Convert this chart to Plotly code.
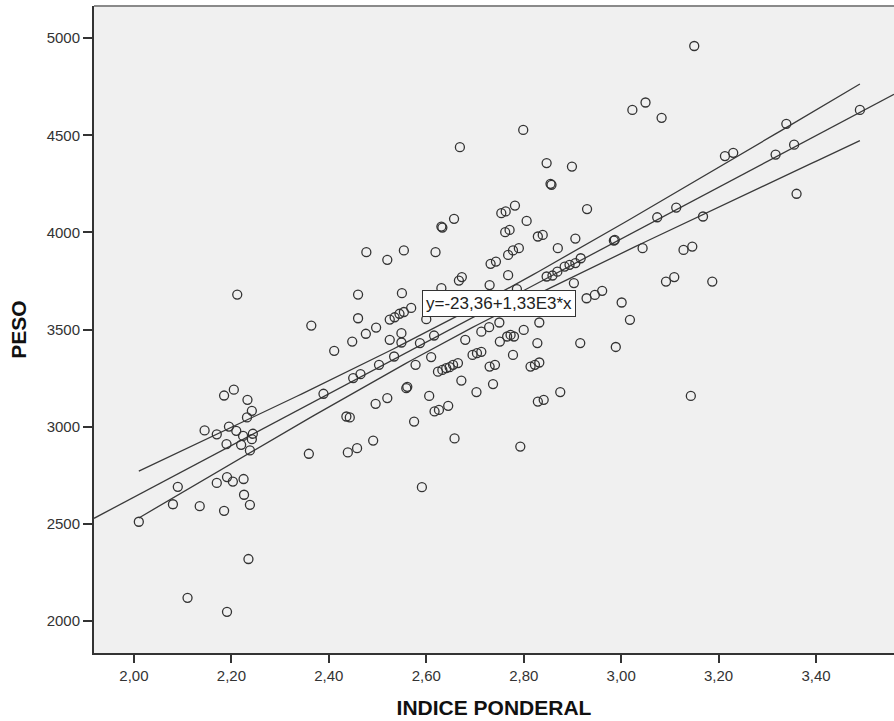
import numpy as np
import plotly.graph_objects as go

# ---- data ----
indice = [
    2.01, 2.08, 2.09, 2.135, 2.11, 2.145, 2.17, 2.17, 2.185, 2.185,
    2.19, 2.191, 2.191, 2.195, 2.203, 2.205, 2.21, 2.212, 2.22, 2.224,
    2.225, 2.226, 2.232, 2.233, 2.235, 2.238, 2.238, 2.242, 2.242, 2.244,
    2.359, 2.364, 2.389, 2.411, 2.436, 2.443, 2.439, 2.448, 2.450, 2.458,
    2.460, 2.460, 2.465, 2.476, 2.477, 2.491, 2.496, 2.497, 2.503, 2.520,
    2.520, 2.525, 2.525, 2.534, 2.535, 2.545, 2.549, 2.549, 2.550, 2.554,
    2.554, 2.559, 2.561, 2.569, 2.575, 2.578, 2.587, 2.591, 2.600, 2.606,
    2.610, 2.616, 2.617, 2.626, 2.645, 2.619, 2.631, 2.633, 2.631,
    2.624, 2.633, 2.641, 2.648, 2.655, 2.665,
    2.657, 2.658, 2.669, 2.667, 2.673, 2.672, 2.680, 2.695, 2.704, 2.713,
    2.703, 2.713, 2.729, 2.730, 2.741, 2.737, 2.730, 2.732, 2.743, 2.750,
    2.751, 2.754, 2.763, 2.762, 2.771, 2.766, 2.773, 2.780, 2.768, 2.778,
    2.790, 2.768, 2.778, 2.782, 2.786, 2.793, 2.799, 2.800, 2.806, 2.814,
    2.823, 2.832, 2.828, 2.829, 2.841, 2.829, 2.839, 2.832, 2.847, 2.855,
    2.857, 2.870, 2.875, 2.899, 2.906, 2.903, 2.916, 2.930,
    2.847, 2.859, 2.869, 2.884, 2.894, 2.906, 2.917,
    2.929, 2.946, 2.961, 2.985, 2.987, 2.989, 3.001, 3.018, 3.023, 3.044,
    3.050, 3.074, 3.083, 3.092, 3.109, 3.113, 3.128, 3.143, 3.146, 3.150,
    3.168, 3.187, 3.213, 3.230, 3.317, 3.339, 3.355, 3.360, 3.490,
]
peso = [
    2510, 2600, 2690, 2590, 2118, 2980, 2960, 2710, 3160, 2566,
    2910, 2740, 2046, 3000, 2717, 3190, 2978, 3680, 2906, 2952,
    2730, 2649, 3047, 3138, 2318, 2877, 2597, 3081, 2935, 2963,
    2860, 3520, 3169, 3390, 3052, 3047, 2867, 3438, 3250, 2889,
    3558, 3680, 3270, 3478, 3898, 2928, 3117, 3510, 3318, 3147,
    3859, 3447, 3551, 3361, 3563, 3581, 3481, 3433, 3687, 3590,
    3907, 3198, 3205, 3611, 3026, 3318, 3430, 2688, 3553, 3158,
    3358, 3469, 3078, 3086, 3107, 3898, 4030, 4025, 3713,
    3283, 3292, 3301, 3306, 3318, 3327,
    4070, 2939, 4439, 3752, 3770, 3237, 3447, 3369, 3378, 3385,
    3178, 3489, 3512, 3309, 3318, 3219, 3729, 3838, 3850, 3536,
    3438, 4099, 4108, 4001, 4013, 3464, 3472, 3464, 3884, 3907,
    3919, 3780, 3369, 4138, 3708, 2897, 4528, 3498, 4059, 3309,
    3318, 3330, 3430, 3129, 3138, 3979, 3987, 3536, 4357, 4250,
    4245, 3919, 3178, 4339, 3968, 3739, 3430, 4120,
    3773, 3778, 3798, 3824, 3833, 3842, 3867,
    3661, 3678, 3699, 3958, 3962, 3410, 3639, 3550, 4631, 3919,
    4669, 4078, 4590, 3747, 3770, 4128, 3910, 3158, 3927, 4960,
    4082, 3747, 4393, 4410, 4401, 4559, 4452, 4199, 4631,
]

INTERCEPT = -23.36
SLOPE = 1330.0
T_CRIT = 1.973
EQUATION = "y=-23,36+1,33E3*x"

x_ticks = [2.0, 2.2, 2.4, 2.6, 2.8, 3.0, 3.2, 3.4]
x_ticklabels = ["2,00", "2,20", "2,40", "2,60", "2,80", "3,00", "3,20", "3,40"]
y_ticks = [2000, 2500, 3000, 3500, 4000, 4500, 5000]
y_ticklabels = ["2000", "2500", "3000", "3500", "4000", "4500", "5000"]
X_RANGE = [1.918, 3.56]
Y_RANGE = [1834, 5166]

# ---- derived: fit line and 95% CI for mean ----
xa = np.array(indice)
ya = np.array(peso)
n = len(xa)
resid = ya - (INTERCEPT + SLOPE * xa)
s = np.sqrt(np.sum(resid ** 2) / (n - 2))
xbar = xa.mean()
sxx = np.sum((xa - xbar) ** 2)
xg = np.linspace(xa.min(), xa.max(), 120)
yg = INTERCEPT + SLOPE * xg
half = T_CRIT * s * np.sqrt(1.0 / n + (xg - xbar) ** 2 / sxx)
xl = np.array(X_RANGE)
yl = INTERCEPT + SLOPE * xl

LINE_COL = "#3a3a3a"
fig = go.Figure()
fig.add_trace(go.Scatter(x=xg, y=yg + half, mode="lines",
                         line=dict(color=LINE_COL, width=1.3), hoverinfo="skip"))
fig.add_trace(go.Scatter(x=xg, y=yg - half, mode="lines",
                         line=dict(color=LINE_COL, width=1.3), hoverinfo="skip"))
fig.add_trace(go.Scatter(x=xl, y=yl, mode="lines",
                         line=dict(color=LINE_COL, width=1.3), hoverinfo="skip"))
fig.add_trace(go.Scatter(x=indice, y=peso, mode="markers",
                         marker=dict(symbol="circle-open", size=9,
                                     color="#333333", line=dict(width=1.3))))

fig.add_annotation(x=2.749, y=3635, xref="x", yref="y", text=EQUATION,
                   showarrow=False, bgcolor="white", bordercolor="#333333",
                   borderwidth=1, borderpad=3,
                   font=dict(family="Liberation Sans, Arial", size=17, color="#222222"))

fig.add_shape(type="line", xref="paper", yref="paper", x0=0, x1=1, y0=1, y1=1,
              line=dict(color="#8a8a8a", width=2))

fig.update_layout(
    width=894, height=721,
    margin=dict(l=94, r=0, t=6, b=68),
    paper_bgcolor="white", plot_bgcolor="#F0F0F0",
    showlegend=False,
    font=dict(family="Liberation Sans, Arial", color="#333333"),
)
fig.update_xaxes(
    range=X_RANGE, tickmode="array", tickvals=x_ticks, ticktext=x_ticklabels,
    showgrid=False, zeroline=False, showline=True, linecolor="#333333", linewidth=2,
    ticks="outside", ticklen=8, tickwidth=1.5, tickcolor="#333333",
    tickfont=dict(size=15, color="#333333"),
    title=dict(text="<b>INDICE PONDERAL</b>", font=dict(size=21, color="#111111"), standoff=17),
)
fig.update_yaxes(
    range=Y_RANGE, tickmode="array", tickvals=y_ticks, ticktext=y_ticklabels,
    showgrid=False, zeroline=False, showline=True, linecolor="#333333", linewidth=2,
    ticks="outside", ticklen=9, tickwidth=1.5, tickcolor="#333333",
    tickfont=dict(size=15, color="#333333"),
    title=dict(text="<b>PESO</b>", font=dict(size=21, color="#111111"), standoff=14),
)

fig.write_html("out.html")
